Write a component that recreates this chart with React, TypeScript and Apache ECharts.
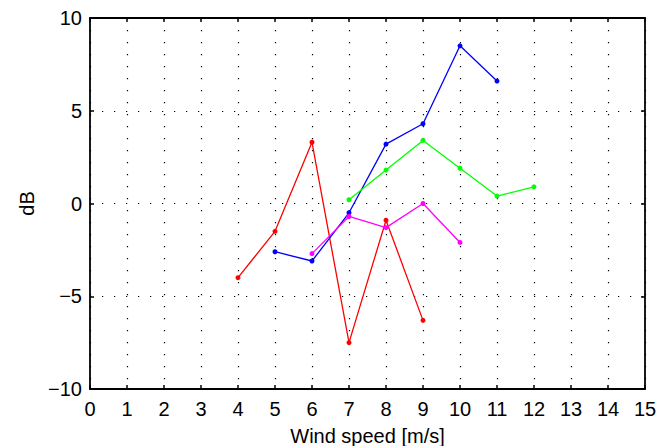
import React, { useEffect, useRef } from "react";
import * as echarts from "echarts";

const xTicks = [0, 1, 2, 3, 4, 5, 6, 7, 8, 9, 10, 11, 12, 13, 14, 15];
const yTicks = [-10, -5, 0, 5, 10];

const redX = [4, 5, 6, 7, 8, 9];
const redY = [-4.0, -1.5, 3.3, -7.5, -0.9, -6.3];

const blueX = [5, 6, 7, 8, 9, 10, 11];
const blueY = [-2.6, -3.1, -0.5, 3.2, 4.3, 8.5, 6.6];

const greenX = [7, 8, 9, 10, 11, 12];
const greenY = [0.2, 1.8, 3.4, 1.9, 0.4, 0.9];

const magentaX = [6, 7, 8, 9, 10];
const magentaY = [-2.7, -0.7, -1.3, 0.0, -2.1];

const FONT = "'Liberation Sans', Arial, sans-serif";
const FS = 20;

function pairs(xs: number[], ys: number[]) {
  return xs.map((x, i) => [x, ys[i]]);
}

function line(name: string, xs: number[], ys: number[], color: string) {
  return {
    name,
    type: "line",
    data: pairs(xs, ys),
    symbol: "circle",
    symbolSize: 5,
    showSymbol: true,
    lineStyle: { color, width: 1.3 },
    itemStyle: { color },
    z: 5,
  };
}

export default function App() {
  const ref = useRef<HTMLDivElement>(null);
  useEffect(() => {
    document.body.style.margin = "0";
    if (!ref.current) return;
    const chart = echarts.init(ref.current, undefined, { renderer: "svg" });
    const dotted = { color: "#000", width: 1.2, type: [1.2, 10.8] as number[] };
    const axLine = { show: true, onZero: false, lineStyle: { color: "#000", width: 1.8 } };
    const tick = { show: true, inside: true, length: 4, lineStyle: { color: "#000", width: 1.5 } };
    chart.setOption({
      animation: false,
      backgroundColor: "#fff",
      grid: { left: 90, right: 12, top: 18, bottom: 57, containLabel: false, outerBoundsMode: "none" },
      xAxis: [
        {
          type: "value",
          min: xTicks[0],
          max: xTicks[xTicks.length - 1],
          interval: 1,
          position: "bottom",
          axisLine: axLine,
          axisTick: tick,
          axisLabel: { color: "#000", fontFamily: FONT, fontSize: FS, margin: 10 },
          splitLine: { show: true, lineStyle: dotted },
          name: "Wind speed [m/s]",
          nameLocation: "middle",
          nameGap: 37,
          nameTextStyle: { color: "#000", fontFamily: FONT, fontSize: FS },
        },
        {
          type: "value",
          min: xTicks[0],
          max: xTicks[xTicks.length - 1],
          interval: 1,
          position: "top",
          axisLine: axLine,
          axisTick: tick,
          axisLabel: { show: false },
          splitLine: { show: false },
        },
      ],
      yAxis: [
        {
          type: "value",
          min: yTicks[0],
          max: yTicks[yTicks.length - 1],
          interval: 5,
          position: "left",
          axisLine: axLine,
          axisTick: tick,
          axisLabel: {
            color: "#000",
            fontFamily: FONT,
            fontSize: FS,
            margin: 8,
            formatter: (v: number) => (v < 0 ? "\u2212" + Math.abs(v) : String(v)),
          },
          splitLine: { show: true, lineStyle: dotted },
          name: "dB",
          nameLocation: "middle",
          nameRotate: 90,
          nameGap: 47,
          nameTextStyle: { color: "#000", fontFamily: FONT, fontSize: FS },
        },
        {
          type: "value",
          min: yTicks[0],
          max: yTicks[yTicks.length - 1],
          interval: 5,
          position: "right",
          axisLine: axLine,
          axisTick: tick,
          axisLabel: { show: false },
          splitLine: { show: false },
        },
      ],
      series: [
        line("red", redX, redY, "#ff0000"),
        line("blue", blueX, blueY, "#0000ff"),
        line("green", greenX, greenY, "#00ff00"),
        line("magenta", magentaX, magentaY, "#ff00ff"),
      ],
    });
    return () => chart.dispose();
  }, []);
  return <div ref={ref} style={{ width: 657, height: 446 }} />;
}
